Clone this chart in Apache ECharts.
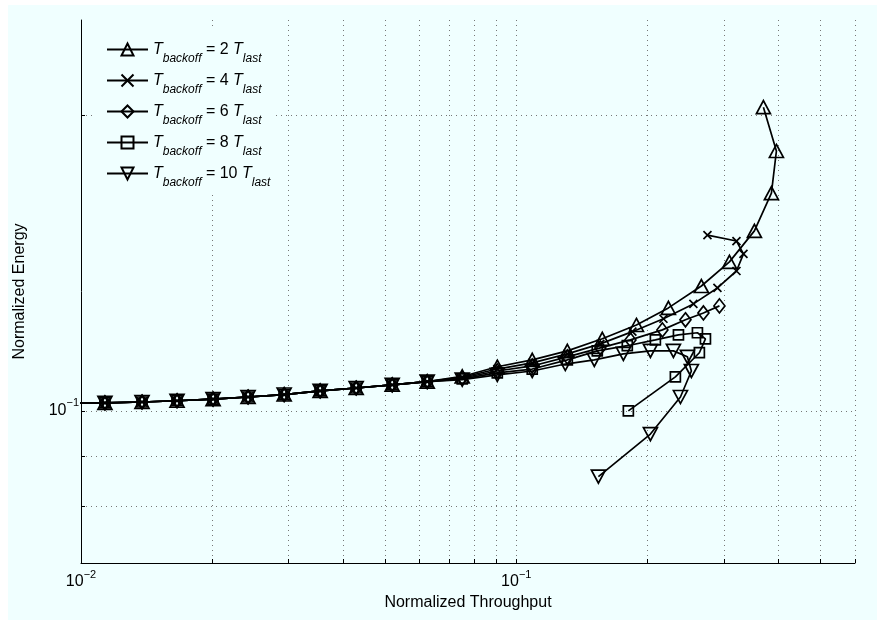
<!DOCTYPE html>
<html>
<head>
<meta charset="utf-8">
<script src="https://cdn.jsdelivr.net/npm/echarts@6/dist/echarts.min.js"></script>
<style>
  html, body { margin: 0; padding: 0; background: #ffffff; }
  #chart { width: 877px; height: 621px; }
</style>
</head>
<body>
<div id="chart"></div>
<script>
// Back-off multipliers, one curve each
const backoffFactors = [2, 4, 6, 8, 10];

// T_backoff = 2 T_last
const throughput2 = [0.00939, 0.01135, 0.01381, 0.01662, 0.02011, 0.02420, 0.02929, 0.03543, 0.04287, 0.05187, 0.06243, 0.07513, 0.09044, 0.1088, 0.1310, 0.1576, 0.1888, 0.2236, 0.2662, 0.3088, 0.3524, 0.3856, 0.3959, 0.3696];
const energy2     = [0.1018, 0.1019, 0.1021, 0.1024, 0.1028, 0.1033, 0.1039, 0.1048, 0.1055, 0.1063, 0.1071, 0.1084, 0.1109, 0.1127, 0.1151, 0.1184, 0.1223, 0.1273, 0.1340, 0.1418, 0.1525, 0.1666, 0.1839, 0.2038];

// T_backoff = 4 T_last
const throughput4 = [0.00939, 0.01135, 0.01381, 0.01662, 0.02011, 0.02420, 0.02929, 0.03543, 0.04287, 0.05187, 0.06243, 0.07513, 0.09044, 0.1088, 0.1310, 0.1560, 0.1848, 0.2178, 0.2552, 0.2898, 0.3205, 0.3326, 0.3205, 0.2749];
const energy4     = [0.1018, 0.1019, 0.1021, 0.1024, 0.1028, 0.1033, 0.1039, 0.1048, 0.1055, 0.1063, 0.1071, 0.1082, 0.1103, 0.1119, 0.1143, 0.1170, 0.1204, 0.1241, 0.1285, 0.1334, 0.1388, 0.1445, 0.1489, 0.1510];

// T_backoff = 6 T_last
const throughput6 = [0.00939, 0.01135, 0.01381, 0.01662, 0.02011, 0.02420, 0.02929, 0.03543, 0.04287, 0.05187, 0.06243, 0.07513, 0.09044, 0.1088, 0.1310, 0.1560, 0.1829, 0.2166, 0.2447, 0.2691, 0.2929];
const energy6     = [0.1018, 0.1019, 0.1021, 0.1024, 0.1028, 0.1033, 0.1039, 0.1048, 0.1055, 0.1063, 0.1071, 0.1080, 0.1098, 0.1111, 0.1135, 0.1159, 0.1181, 0.1209, 0.1238, 0.1258, 0.1279];

// T_backoff = 8 T_last
const throughput8 = [0.00939, 0.01135, 0.01381, 0.01662, 0.02011, 0.02420, 0.02929, 0.03543, 0.04287, 0.05187, 0.06243, 0.07513, 0.09044, 0.1088, 0.1310, 0.1535, 0.1799, 0.2087, 0.2358, 0.2607, 0.2720, 0.2634, 0.2320, 0.1809];
const energy8     = [0.1018, 0.1019, 0.1021, 0.1024, 0.1028, 0.1033, 0.1039, 0.1048, 0.1055, 0.1063, 0.1071, 0.1078, 0.1093, 0.1103, 0.1127, 0.1151, 0.1165, 0.1181, 0.1195, 0.1201, 0.1184, 0.1146, 0.1083, 0.1000];

// T_backoff = 10 T_last
const throughput10 = [0.00939, 0.01135, 0.01381, 0.01662, 0.02011, 0.02420, 0.02929, 0.03543, 0.04287, 0.05187, 0.06243, 0.07513, 0.09044, 0.1088, 0.1296, 0.1511, 0.1762, 0.2033, 0.2296, 0.2472, 0.2525, 0.2383, 0.2033, 0.1544];
const energy10     = [0.1018, 0.1019, 0.1021, 0.1024, 0.1028, 0.1033, 0.1039, 0.1048, 0.1055, 0.1063, 0.1071, 0.1076, 0.1088, 0.1098, 0.1116, 0.1127, 0.1143, 0.1151, 0.1151, 0.1135, 0.1098, 0.1033, 0.0947, 0.0857];

// Log-axis tick / grid positions and labelled decades
const xTickValues = [0.01, 0.02, 0.03, 0.04, 0.05, 0.06, 0.07, 0.08, 0.09, 0.1, 0.2, 0.3, 0.4, 0.5, 0.6];
const yTickValues = [0.07, 0.08, 0.09, 0.1, 0.2];
const xLabelValues = [0.01, 0.1];
const yLabelValues = [0.1];

const curves = [
  { x: throughput2,  y: energy2 },
  { x: throughput4,  y: energy4 },
  { x: throughput6,  y: energy6 },
  { x: throughput8,  y: energy8 },
  { x: throughput10, y: energy10 }
];

const markerShapes = [
  { symbol: 'triangle', size: [14, 13] },
  { symbol: 'path://M0,0L10,10M0,10L10,0', size: [8, 8] },
  { symbol: 'diamond', size: [11, 14] },
  { symbol: 'rect', size: [10, 10] },
  { symbol: 'path://M0,0L10,0L5,10Z', size: [14, 13] }
];

const FONT = '"Liberation Sans", Arial, Helvetica, sans-serif';
const BG = '#F0FFFF';

function seriesName(f) { return 'T_backoff = ' + f + ' T_last'; }

function decadeLabel(v) {
  const e = Math.round(Math.log10(v));
  return '{b|10}{s|' + (e < 0 ? '\u2212' : '') + Math.abs(e) + '}';
}

const powRich = {
  b: { fontFamily: FONT, fontSize: 16, color: '#000', lineHeight: 26, verticalAlign: 'middle' },
  s: { fontFamily: FONT, fontSize: 11, color: '#000', verticalAlign: 'top' }
};

const gridLine = { show: true, lineStyle: { color: '#777', width: 1, type: [1, 4] } };

const chart = echarts.init(document.getElementById('chart'), null, { renderer: 'canvas' });

chart.setOption({
  backgroundColor: '#ffffff',
  animation: false,
  graphic: [{
    type: 'rect', z: -100, silent: true,
    shape: { x: 8, y: 5, width: 869, height: 615 },
    style: { fill: BG }
  }],
  grid: { left: 81, right: 22, top: 20, bottom: 58, outerBoundsMode: 'none', containLabel: false },
  xAxis: {
    type: 'log', logBase: 10, min: 0.01, max: 0.6,
    name: 'Normalized Throughput', nameLocation: 'middle', nameGap: 29,
    nameTextStyle: { fontFamily: FONT, fontSize: 16, color: '#000' },
    axisLine: { show: true, lineStyle: { color: '#000', width: 1 } },
    axisTick: { show: true, inside: true, length: 4, customValues: xTickValues, lineStyle: { color: '#000' } },
    axisLabel: { show: true, margin: 6, customValues: xLabelValues, formatter: decadeLabel, rich: powRich },
    splitLine: gridLine,
    minorTick: { show: false }, minorSplitLine: { show: false }
  },
  yAxis: {
    type: 'log', logBase: 10, min: 0.07, max: 0.25,
    name: 'Normalized Energy', nameLocation: 'middle', nameGap: 53,
    nameTextStyle: { fontFamily: FONT, fontSize: 16, color: '#000' },
    axisLine: { show: true, lineStyle: { color: '#000', width: 1 } },
    axisTick: { show: true, inside: true, length: 4, customValues: yTickValues, lineStyle: { color: '#000' } },
    axisLabel: { show: true, margin: 2, customValues: yLabelValues, formatter: decadeLabel, rich: powRich },
    splitLine: gridLine,
    minorTick: { show: false }, minorSplitLine: { show: false }
  },
  legend: {
    orient: 'vertical', left: 95, top: 28,
    padding: [6, 4, 6, 11], itemGap: 0,
    itemWidth: 41, itemHeight: 15,
    backgroundColor: BG, borderWidth: 0,
    selectedMode: false,
    data: backoffFactors.map(seriesName),
    formatter: function (name) {
      const f = name.match(/= (\d+)/)[1];
      return '{t|T}{sub|backoff}{n| = ' + f + ' }{t|T}{sub|last}';
    },
    textStyle: {
      fontFamily: FONT, color: '#000', lineHeight: 31,
      rich: {
        t: { fontFamily: FONT, fontSize: 16, fontStyle: 'italic', color: '#000', lineHeight: 31, verticalAlign: 'middle' },
        n: { fontFamily: FONT, fontSize: 16, color: '#000', lineHeight: 31, verticalAlign: 'middle' },
        sub: { fontFamily: FONT, fontSize: 12, fontStyle: 'italic', color: '#000', lineHeight: 14, verticalAlign: 'bottom' }
      }
    }
  },
  series: curves.map(function (c, i) {
    return {
      name: seriesName(backoffFactors[i]),
      type: 'line',
      data: c.x.map(function (v, k) { return [v, c.y[k]]; }),
      symbol: markerShapes[i].symbol,
      symbolSize: markerShapes[i].size,
      showSymbol: true,
      clip: true,
      lineStyle: { color: '#000', width: 1.7 },
      itemStyle: { color: 'rgba(0,0,0,0)', borderColor: '#000', borderWidth: 1.7 },
      emphasis: { disabled: true },
      z: 3 + i
    };
  })
});
</script>
</body>
</html>
